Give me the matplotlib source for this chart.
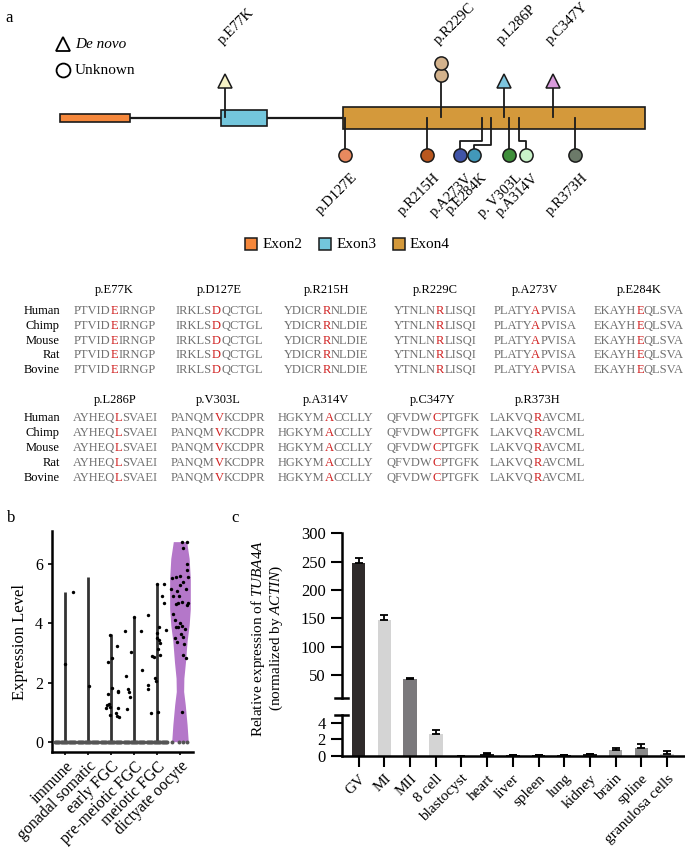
import numpy as np
import matplotlib
matplotlib.use('Agg')
import matplotlib.pyplot as plt
from matplotlib.patches import Rectangle
from matplotlib.font_manager import FontProperties

plt.rcParams['font.family'] = ['Liberation Serif', 'DejaVu Serif']
plt.rcParams['mathtext.fontset'] = 'custom'
plt.rcParams['mathtext.rm'] = 'Liberation Serif'
plt.rcParams['mathtext.it'] = 'Liberation Serif:italic'

W, H = 685, 847

# ---------------- panel a : gene track (track units follow the drawing) ----------------
exon_names = ['Exon2', 'Exon3', 'Exon4']
exon_start = [60, 221, 343]
exon_end = [130, 267, 645]
exon_colors = ['#f5873b', '#73c6dc', '#d4993b']

top_labels = ['p.E77K', 'p.R229C', 'p.L286P', 'p.C347Y']
top_pos = [225, 441, 504, 553]
top_count = [1, 2, 1, 1]
top_denovo = [True, False, True, True]
top_colors = ['#f7f3c6', '#d3b28c', '#7dc5de', '#d99bdc']

bot_labels = ['p.D127E', 'p.R215H', 'p.A273V', 'p.E284K', 'p. V303L', 'p.A314V', 'p.R373H']
bot_site = [345, 427, 482, 491, 509, 519, 575]
bot_head = [345, 427, 460, 474, 509, 526, 575]
bot_colors = ['#e88a5f', '#b9571f', '#4054a8', '#4298b9', '#3f8f3b', '#c9f2c9', '#6c7a69']

# conservation alignment
species = ['Human', 'Chimp', 'Mouse', 'Rat', 'Bovine']
row1_muts = ['p.E77K', 'p.D127E', 'p.R215H', 'p.R229C', 'p.A273V', 'p.E284K']
row1_seqs = ['PTVIDEIRNGP', 'IRKLSDQCTGL', 'YDICRRNLDIE', 'YTNLNRLISQI', 'PLATYAPVISA', 'EKAYHEQLSVA']
row2_muts = ['p.L286P', 'p.V303L', 'p.A314V', 'p.C347Y', 'p.R373H']
row2_seqs = ['AYHEQLSVAEI', 'PANQMVKCDPR', 'HGKYMACCLLY', 'QFVDWCPTGFK', 'LAKVQRAVCML']
site_idx = 5

# ---------------- panel b : single cell expression ----------------
cell_types = ['immune', 'gonadal somatic', 'early FGC', 'pre-meiotic FGC', 'meiotic FGC', 'dictyate oocyte']
vln_max = [5.08, 5.58, 3.65, 4.23, 5.35, 6.77]
cell_vals = [
    [5.08, 2.62],
    [1.89],
    [3.61, 2.71, 2.83, 3.24, 1.81, 1.62, 1.73, 1.69, 1.28, 1.25, 1.19, 1.13, 1.15, 0.89, 0.96, 0.87, 0.82],
    [3.76, 3.75, 3.05, 2.21, 2.43, 1.78, 1.67, 1.50, 1.11, 4.21],
    [4.30, 3.77, 3.87, 3.67, 3.50, 3.44, 3.33, 3.14, 2.90, 2.85, 2.94, 2.15, 2.06, 1.93, 1.79,
     0.98, 1.00, 5.32, 4.92, 4.71, 5.35],
    [6.77, 6.75, 6.56, 6.00, 5.81, 5.56, 5.56, 5.61, 5.55, 5.39, 5.30, 5.16, 5.10, 5.17, 4.93,
     4.93, 4.72, 4.68, 4.63, 4.65, 4.71, 4.32, 4.12, 4.00, 3.87, 3.90, 3.87, 3.83, 3.65, 3.50,
     3.55, 3.37, 3.30, 2.95, 2.83, 0.99],
]
cell_jitter = [
    [0.33, 0.0],
    [0.03],
    [-0.03, -0.12, 0.04, 0.25, 0.04, -0.13, 0.29, 0.32, -0.10, -0.17, -0.03, -0.22, 0.31, -0.06, 0.22, 0.28, 0.35],
    [-0.38, 0.29, -0.12, -0.33, 0.36, -0.25, -0.23, -0.19, -0.31, 0.01],
    [-0.41, 0.38, 0.09, 0.0, 0.01, 0.09, 0.15, 0.04, -0.22, -0.12, 0.15, -0.09, -0.06, -0.38, -0.38,
     -0.25, 0.06, 0.32, 0.20, 0.32, 0.0],
    [0.07, 0.29, 0.12, 0.29, 0.31, 0.35, -0.17, -0.01, -0.35, 0.15, 0.0, -0.39, -0.12, 0.25, -0.32,
     -0.03, 0.09, 0.36, 0.31, -0.17, -0.09, -0.29, -0.20, 0.0, -0.10, 0.07, -0.16, 0.22, 0.03, -0.23,
     0.12, -0.12, 0.17, 0.12, 0.26, 0.10],
]
zero_jitter = [-0.45, -0.4, -0.35, -0.3, -0.25, -0.2, -0.15, -0.1, -0.05, 0.0,
               0.05, 0.1, 0.15, 0.2, 0.25, 0.3, 0.35, 0.4, 0.45]
dicty_zero_jitter = [-0.35, -0.06, 0.15, 0.31]
dicty_levels = [0, 0.57, 1.25, 1.7, 2.15, 2.7, 3.4, 3.95, 4.5, 5.5, 6.2, 6.77]
dicty_halfwidth = [0.36, 0.31, 0.23, 0.16, 0.17, 0.24, 0.31, 0.40, 0.45, 0.45, 0.40, 0.29]

# ---------------- panel c : qPCR ----------------
stages = ['GV', 'MI', 'MII', '8 cell', 'blastocyst', 'heart', 'liver', 'spleen', 'lung',
          'kidney', 'brain', 'spline', 'granulosa cells']
rel_expr = [248, 147, 42.4, 2.7, 0, 0.2, 0.08, 0.1, 0.1, 0.2, 0.7, 0.95, 0.3]
rel_err = [9, 9, 1.7, 0.4, 0, 0.12, 0.04, 0.05, 0.05, 0.1, 0.25, 0.45, 0.25]
bar_colors = ['#2f2b2b', '#d4d4d4', '#7b797c', '#d4d4d4', '#d4d4d4', '#222222', '#222222',
              '#222222', '#222222', '#222222', '#a3a3a3', '#8a8a8a', '#d0d0d0']

fig = plt.figure(figsize=(W / 100, H / 100), dpi=100)
renderer = fig.canvas.get_renderer()

# overlay axes in pixel units for the gene track and the alignment
ax0 = fig.add_axes([0, 0, 1, 1])
ax0.set_xlim(0, W)
ax0.set_ylim(H, 0)
ax0.axis('off')

mid = 118
ax0.plot([exon_end[0], exon_start[1]], [mid, mid], color='#1a1a1a', lw=1.6, zorder=1)
ax0.plot([exon_end[1], exon_start[2]], [mid, mid], color='#1a1a1a', lw=1.6, zorder=1)
for s, e, c, h in zip(exon_start, exon_end, exon_colors, [8.7, 16.7, 22.6]):
    ax0.add_patch(Rectangle((s, mid - h / 2), e - s, h, facecolor=c, edgecolor='#1a1a1a', lw=1.2, zorder=2))

# mutations above the track
for lab, x, n, dn, c in zip(top_labels, top_pos, top_count, top_denovo, top_colors):
    if dn:
        ax0.plot([x, x], [117, 86], color='#1a1a1a', lw=1.3, zorder=3)
        ax0.plot(x, 81, marker='^', ms=9.5, mfc=c, mec='#1a1a1a', mew=1.1, zorder=4)
    else:
        ax0.plot([x, x], [117, 80], color='#1a1a1a', lw=1.3, zorder=3)
        for k in range(n):
            ax0.plot(x, 75.5 - 12.8 * k, marker='o', ms=9.5, mfc=c, mec='#1a1a1a', mew=1.1, zorder=4)
    ax0.text(x, 47, lab, rotation=45, ha='left', va='bottom', rotation_mode='anchor', fontsize=10.5)

# mutations below the track
for lab, xs, xh, c in zip(bot_labels, bot_site, bot_head, bot_colors):
    if xs == xh:
        ax0.plot([xs, xs], [118, 150], color='#1a1a1a', lw=1.3, zorder=3)
    else:
        ye = 145 if lab == 'p.E284K' else 141.5
        ax0.plot([xs, xs, xh, xh], [118, ye, ye, 150], color='#1a1a1a', lw=1.3, zorder=3)
    ax0.plot(xh, 155, marker='o', ms=9.5, mfc=c, mec='#1a1a1a', mew=1.1, zorder=4)
    ax0.text(xh + 6, 171, lab, rotation=45, ha='right', va='top', rotation_mode='anchor', fontsize=10.5)

# type legend
ax0.plot(63.5, 44, marker='^', ms=10, mfc='white', mec='black', mew=1.3)
ax0.plot(63.5, 70, marker='o', ms=10, mfc='white', mec='black', mew=1.3)
ax0.text(75, 44, 'De novo', style='italic', fontsize=11, va='center')
ax0.text(75, 70, 'Unknown', fontsize=11, va='center')

# exon legend
for name, c, x in zip(exon_names, exon_colors, [251.5, 325.3, 398.7]):
    ax0.plot(x, 244, marker='s', ms=8, mfc=c, mec='#1a1a1a', mew=1.1)
    ax0.text(x + 11, 244, name, fontsize=11, va='center')

# alignment blocks: prefix left-aligned, red residue and suffix right-aligned
# on the measured width of the word they end, so letters keep their spacing
seq_size = 9
seq_prop = FontProperties(family='Liberation Serif', size=seq_size)


def text_w(s):
    return renderer.get_text_width_height_descent(s, seq_prop, ismath=False)[0]


grey, red = '#707070', '#d02020'
blocks = [
    (row1_muts, row1_seqs, [74, 176, 284, 394, 494, 594], 290, [311, 326, 340.7, 355.3, 370]),
    (row2_muts, row2_seqs, [72.7, 171, 278, 386.5, 490], 400, [418.3, 433, 448, 463, 478]),
]
for muts, seqs, xs, yh, ys in blocks:
    for sp, y in zip(species, ys):
        ax0.text(60, y, sp, ha='right', va='center', fontsize=seq_size)
    for mut, seq, x in zip(muts, seqs, xs):
        site_right = x + text_w(seq[:site_idx + 1])
        seq_right = x + text_w(seq)
        for y in ys:
            ax0.text(x, y, seq[:site_idx], ha='left', va='center', fontproperties=seq_prop, color=grey)
            ax0.text(site_right, y, seq[site_idx], ha='right', va='center', fontproperties=seq_prop, color=red)
            ax0.text(seq_right, y, seq[site_idx + 1:], ha='right', va='center', fontproperties=seq_prop,
                     color=grey)
        ax0.text((x + seq_right) / 2, yh, mut, ha='center', va='center', fontsize=seq_size)

# ---------------- panel b ----------------
axb = fig.add_axes([52 / W, 1 - 752.3 / H, (193.3 - 52) / W, (752.3 - 531) / H])
for i, name in enumerate(cell_types):
    pos = i + 1
    if i < 5:
        axb.vlines(pos, 0, vln_max[i], color='#333333', lw=2, zorder=2)
        zj = np.array(zero_jitter)
    else:
        hw = np.array(dicty_halfwidth)
        axb.fill_betweenx(dicty_levels, pos - hw, pos + hw, color='#b477c9', lw=0, zorder=1)
        zj = np.array(dicty_zero_jitter)
    axb.scatter(pos + zj, np.zeros(len(zj)), s=8, color='#555555', lw=0, zorder=3)
    axb.scatter(pos + np.array(cell_jitter[i]), cell_vals[i], s=6, color='black', lw=0, zorder=4)

axb.set_xlim(0.43, 6.58)
axb.set_ylim(-0.36, 7.13)
axb.set_yticks([0, 2, 4, 6])
axb.set_xticks(range(1, 7))
axb.set_xticklabels(cell_types, rotation=45, ha='right', rotation_mode='anchor')
axb.tick_params(axis='both', labelsize=11.5, length=3, width=1.2)
axb.tick_params(axis='x', length=2.5, pad=2)
for sp in ['top', 'right']:
    axb.spines[sp].set_visible(False)
for sp in ['left', 'bottom']:
    axb.spines[sp].set_linewidth(1.8)
axb.set_ylabel('Expression Level', fontsize=12)
axb.yaxis.set_label_coords(-0.17, 0.5)

# ---------------- panel c (broken axis) ----------------
x = np.arange(len(stages))
left, right = 341.7, W
axt = fig.add_axes([left / W, 1 - 697.7 / H, (right - left) / W, (697.7 - 533.3) / H])
axg = fig.add_axes([left / W, 1 - 714.5 / H, (right - left) / W, (714.5 - 697.7) / H])
axl = fig.add_axes([left / W, 1 - 756 / H, (right - left) / W, (756 - 714.5) / H])

# bars keep running through the break
crosses = [1 if v > 5 else 0 for v in rel_expr]
axg.bar(x, crosses, width=0.53, color=bar_colors)
axg.set_xlim(-0.66, 12.7)
axg.set_ylim(0, 1)
axg.axis('off')

for ax in (axt, axl):
    ax.bar(x, rel_expr, width=0.53, color=bar_colors, zorder=2)
    ax.errorbar(x, rel_expr, yerr=[np.zeros(len(x)), rel_err], fmt='none', ecolor='black',
                elinewidth=1.3, capsize=3, capthick=1.3, zorder=3)
    ax.set_xlim(-0.66, 12.7)
    ax.spines['top'].set_visible(False)
    ax.spines['right'].set_visible(False)
    ax.spines['left'].set_linewidth(1.8)
    ax.spines['bottom'].set_linewidth(1.8)
    ax.tick_params(axis='both', labelsize=11, length=8, width=1.5)
    ax.tick_params(axis='y', labelsize=12)
    ax.plot([-0.019, 0.019], [0 if ax is axt else 1] * 2, color='black', lw=1.8,
            transform=ax.transAxes, clip_on=False)

axt.set_ylim(10, 300)
axt.set_yticks([50, 100, 150, 200, 250, 300])
axt.spines['bottom'].set_visible(False)
axt.set_xticks([])
axl.set_ylim(0, 5)
axl.set_yticks([0, 2, 4])
axl.set_xticks(x)
axl.set_xticklabels(stages, rotation=45, ha='right', rotation_mode='anchor')

fig.text(258 / W, 1 - 638 / H, r'Relative expression of $\mathit{TUBA4A}$', rotation=90,
         ha='center', va='center', fontsize=11)
fig.text(276 / W, 1 - 638 / H, r'(normalized by $\mathit{ACTIN}$)', rotation=90,
         ha='center', va='center', fontsize=11)

# panel letters
fig.text(5 / W, 1 - 18 / H, 'a', fontsize=12, va='center')
fig.text(7 / W, 1 - 518 / H, 'b', fontsize=12, va='center')
fig.text(231 / W, 1 - 518 / H, 'c', fontsize=12, va='center')

fig.savefig('out.png', dpi=100)
